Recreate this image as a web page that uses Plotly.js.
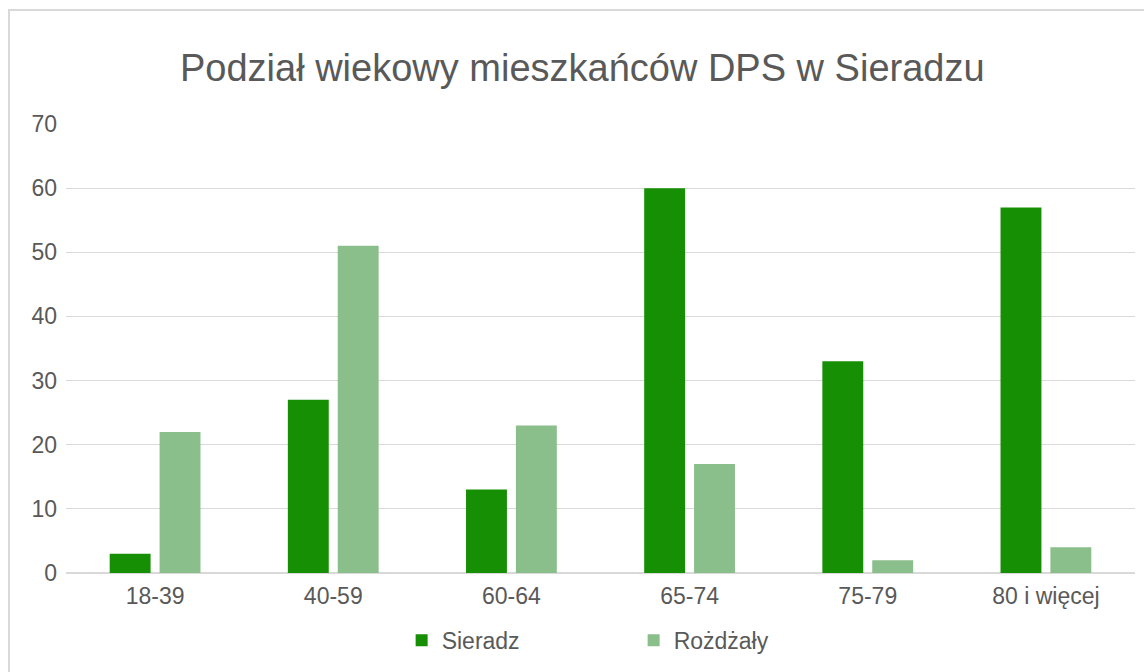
<!DOCTYPE html>
<html>
<head>
<meta charset="utf-8">
<script src="https://cdn.plot.ly/plotly-3.0.1.min.js"></script>
<style>
html,body{margin:0;padding:0;background:#fff;}
#wrap{position:relative;width:1144px;height:672px;}
#chart{position:absolute;left:0;top:0;width:1144px;height:672px;}
#frame{position:absolute;left:8px;top:9px;width:1150px;height:680px;border:2px solid #d9d9d9;box-sizing:border-box;pointer-events:none;}
</style>
</head>
<body>
<div id="wrap"><div id="chart"></div><div id="frame"></div></div>
<script>
const categories = ["18-39", "40-59", "60-64", "65-74", "75-79", "80 i więcej"];
const sieradz = [3, 27, 13, 60, 33, 57];
const rozdzaly = [22, 51, 23, 17, 2, 4];
const seriesNames = ["Sieradz", "Rożdżały"];
const titleText = "Podział wiekowy mieszkańców DPS w Sieradzu";

const font = "Arial, 'Liberation Sans', sans-serif";
const textColor = "#595959";

const data = [
  {type: "bar", name: seriesNames[0], x: categories, y: sieradz, marker: {color: "#178f05"}},
  {type: "bar", name: seriesNames[1], x: categories, y: rozdzaly, marker: {color: "#8abe8a"}}
];

const layout = {
  width: 1144, height: 672,
  paper_bgcolor: "rgba(0,0,0,0)", plot_bgcolor: "#fff",
  margin: {l: 66, r: 9, t: 124, b: 99},
  font: {family: font, color: textColor, size: 23},
  title: {text: titleText, font: {family: font, size: 38, color: textColor}, x: 0.509, xanchor: "center", y: 0.899, yanchor: "middle"},
  barmode: "group", bargap: 0.44, bargroupgap: 0.18,
  xaxis: {type: "category", showgrid: false, ticks: "", showline: false, ticklabelstandoff: 7, tickfont: {size: 23, color: textColor}},
  yaxis: {range: [0, 70], dtick: 10, showgrid: true, gridcolor: "#d9d9d9", gridwidth: 1,
          zeroline: true, zerolinecolor: "#d9d9d9", zerolinewidth: 2, showline: false, ticks: "",
          ticklabelstandoff: 8, tickfont: {size: 23, color: textColor}},
  showlegend: true,
  legend: {orientation: "h", x: 0.531, xanchor: "center", y: -0.15, yanchor: "middle",
           font: {size: 23, color: textColor}, entrywidth: 187, itemwidth: 30, traceorder: "normal"}
};

Plotly.newPlot("chart", data, layout, {displayModeBar: false, staticPlot: true});
</script>
</body>
</html>
